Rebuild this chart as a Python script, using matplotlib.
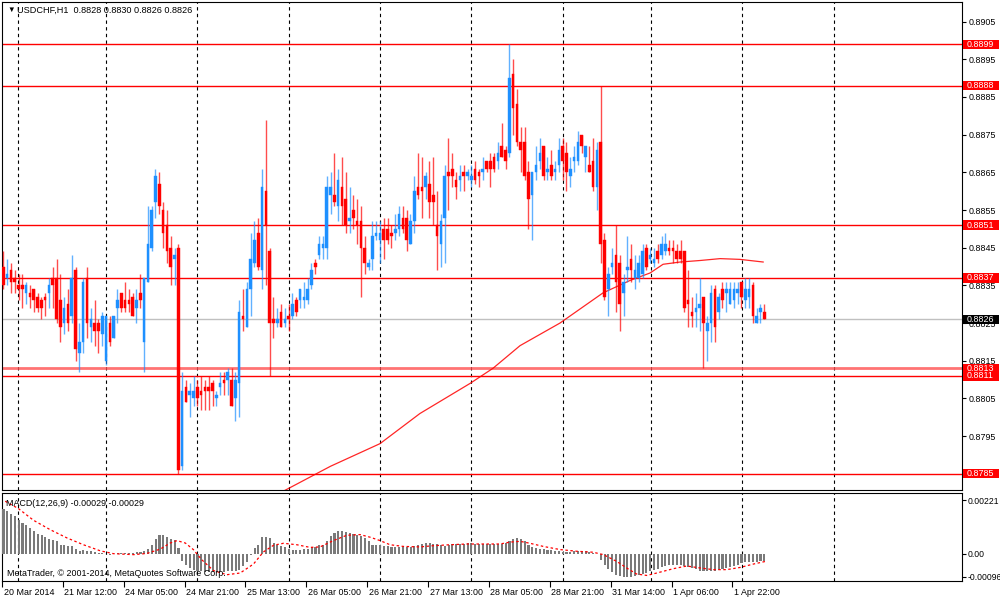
import matplotlib
matplotlib.use('Agg')
import matplotlib.pyplot as plt
import matplotlib.transforms as mtransforms
from matplotlib.patches import Rectangle

plt.rcParams['font.family'] = ['Liberation Sans', 'DejaVu Sans']

# ---- USDCHF H1 candles ----
OPEN = [
    .8840, .8837, .8839, .8837, .8835, .8835, .8833, .8833, .8834, .8832,
    .8831, .8832, .8833, .8837, .8837, .8831, .8825, .8830, .8827, .8839,
    .8817, .8820, .8837, .8824, .8825, .8825, .8822, .8815, .8825, .8821,
    .8829, .8833, .8831, .8831, .8832, .8829, .8833, .8820, .8836, .8845,
    .8857, .8862, .8855, .8851, .8845, .8842, .8845, .8787, .8808, .8806,
    .8805, .8808, .8807, .8808, .8808, .8809, .8805, .8808, .8810, .8810,
    .8810, .8805, .8809, .8827, .8824, .8834, .8841, .8849, .8839, .8860,
    .8844, .8826, .8825, .8828, .8825, .8827, .8827, .8831, .8831, .8831,
    .8831, .8835, .8841, .8843, .8845, .8845, .8859, .8859, .8856, .8861,
    .8858, .8852, .8855, .8852, .8852, .8845, .8840, .8842, .8848, .8847,
    .8850, .8850, .8849, .8849, .8850, .8853, .8853, .8846, .8852, .8861,
    .8861, .8861, .8862, .8859, .8851, .8846, .8853, .8865, .8866, .8863,
    .8863, .8865, .8864, .8863, .8866, .8865, .8865, .8868, .8868, .8869,
    .8868, .8872, .8871, .8870, .8891, .8883, .8873, .8873, .8865, .8859,
    .8865, .8868, .8872, .8865, .8867, .8865, .8867, .8872, .8870, .8864,
    .8868, .8868, .8875, .8869, .8867, .8868, .8861, .8873, .8847, .8834,
    .8840, .8843, .8841, .8833, .8839, .8842, .8837, .8837, .8838, .8845,
    .8842, .8841, .8844, .8843, .8844, .8845, .8845, .8844, .8844, .8844,
    .8831, .8828, .8828, .8829, .8832, .8823, .8825, .8834, .8828, .8834,
    .8833, .8830, .8831, .8833, .8836, .8831, .8832, .8835, .8825, .8828,
    .8828,
]
HIGH = [
    .8844, .8842, .8841, .8839, .8838, .8838, .8836, .8835, .8834, .8833,
    .8832, .8833, .8837, .8840, .8842, .8838, .8832, .8834, .8843, .8840,
    .8825, .8837, .8840, .8829, .8831, .8826, .8828, .8827, .8827, .8827,
    .8834, .8833, .8836, .8834, .8833, .8834, .8838, .8837, .8856, .8856,
    .8866, .8865, .8857, .8855, .8848, .8845, .8846, .8812, .8810, .8809,
    .8811, .8810, .8811, .8810, .8811, .8810, .8807, .8812, .8812, .8813,
    .8813, .8812, .8831, .8834, .8836, .8849, .8852, .8853, .8866, .8879,
    .8845, .8832, .8829, .8830, .8829, .8830, .8833, .8832, .8834, .8836,
    .8837, .8841, .8842, .8848, .8848, .8864, .8865, .8870, .8866, .8869,
    .8865, .8861, .8859, .8858, .8856, .8848, .8842, .8852, .8852, .8852,
    .8853, .8853, .8851, .8854, .8856, .8856, .8855, .8854, .8864, .8870,
    .8869, .8865, .8868, .8869, .8860, .8854, .8867, .8874, .8870, .8865,
    .8867, .8867, .8866, .8867, .8868, .8866, .8869, .8868, .8870, .8870,
    .8873, .8878, .8872, .8899, .8895, .8887, .8877, .8877, .8868, .8865,
    .8872, .8874, .8872, .8869, .8871, .8868, .8874, .8874, .8873, .8869,
    .8872, .8876, .8875, .8872, .8872, .8874, .8873, .8888, .8849, .8840,
    .8845, .8851, .8843, .8838, .8848, .8846, .8843, .8843, .8846, .8846,
    .8845, .8845, .8846, .8848, .8849, .8847, .8847, .8846, .8847, .8844,
    .8839, .8832, .8833, .8837, .8832, .8827, .8835, .8835, .8833, .8836,
    .8836, .8836, .8836, .8836, .8836, .8837, .8837, .8836, .8829, .8830,
    .8830,
]
LOW = [
    .8834, .8835, .8833, .8833, .8831, .8829, .8830, .8829, .8828, .8828,
    .8826, .8827, .8829, .8829, .8825, .8820, .8822, .8823, .8825, .8815,
    .8812, .8817, .8821, .8820, .8819, .8817, .8819, .8814, .8819, .8821,
    .8825, .8828, .8828, .8828, .8827, .8825, .8829, .8812, .8836, .8844,
    .8853, .8854, .8845, .8841, .8835, .8835, .8785, .8786, .8804, .8800,
    .8803, .8803, .8802, .8802, .8802, .8803, .8803, .8806, .8806, .8806,
    .8803, .8799, .8800, .8823, .8824, .8827, .8840, .8839, .8834, .8835,
    .8811, .8821, .8824, .8824, .8824, .8823, .8826, .8827, .8829, .8829,
    .8830, .8834, .8838, .8842, .8842, .8842, .8854, .8856, .8852, .8851,
    .8849, .8849, .8850, .8846, .8832, .8838, .8839, .8839, .8847, .8841,
    .8842, .8846, .8845, .8847, .8848, .8849, .8844, .8846, .8849, .8858,
    .8853, .8858, .8853, .8851, .8839, .8840, .8841, .8855, .8861, .8858,
    .8860, .8860, .8863, .8861, .8862, .8861, .8863, .8865, .8861, .8865,
    .8866, .8869, .8866, .8869, .8875, .8872, .8865, .8863, .8850, .8847,
    .8863, .8866, .8863, .8863, .8863, .8863, .8865, .8863, .8860, .8861,
    .8865, .8867, .8870, .8865, .8865, .8860, .8855, .8841, .8831, .8827,
    .8838, .8828, .8823, .8827, .8836, .8836, .8834, .8836, .8837, .8839,
    .8841, .8840, .8841, .8842, .8843, .8843, .8841, .8841, .8841, .8828,
    .8824, .8824, .8824, .8823, .8813, .8815, .8820, .8820, .8826, .8829,
    .8828, .8830, .8829, .8830, .8829, .8829, .8829, .8825, .8825, .8825,
    .8826,
]
CLOSE = [
    .8835, .8838, .8836, .8836, .8834, .8834, .8835, .8832, .8831, .8829,
    .8829, .8831, .8835, .8835, .8826, .8824, .8829, .8825, .8837, .8818,
    .8820, .8836, .8825, .8826, .8823, .8823, .8827, .8827, .8820, .8827,
    .8831, .8829, .8829, .8830, .8827, .8831, .8831, .8837, .8846, .8855,
    .8864, .8856, .8849, .8844, .8840, .8843, .8786, .8807, .8804, .8807,
    .8807, .8805, .8806, .8807, .8807, .8807, .8806, .8809, .8809, .8812,
    .8803, .8810, .8828, .8826, .8834, .8842, .8847, .8840, .8861, .8851,
    .8825, .8825, .8826, .8824, .8826, .8826, .8830, .8828, .8834, .8832,
    .8834, .8839, .8840, .8846, .8846, .8861, .8861, .8857, .8863, .8856,
    .8851, .8853, .8853, .8851, .8845, .8841, .8841, .8848, .8849, .8849,
    .8847, .8847, .8848, .8850, .8854, .8850, .8847, .8852, .8860, .8859,
    .8860, .8864, .8857, .8857, .8848, .8852, .8864, .8864, .8864, .8861,
    .8864, .8864, .8865, .8864, .8863, .8864, .8866, .8866, .8866, .8866,
    .8870, .8869, .8868, .8890, .8882, .8873, .8871, .8864, .8858, .8865,
    .8867, .8870, .8864, .8866, .8864, .8866, .8871, .8868, .8865, .8866,
    .8869, .8873, .8872, .8872, .8865, .8861, .8871, .8846, .8832, .8838,
    .8841, .8836, .8830, .8836, .8840, .8839, .8839, .8841, .8844, .8840,
    .8843, .8842, .8842, .8846, .8846, .8844, .8844, .8842, .8842, .8829,
    .8830, .8827, .8829, .8830, .8825, .8825, .8833, .8824, .8832, .8831,
    .8834, .8834, .8834, .8834, .8832, .8834, .8834, .8827, .8827, .8829,
    .8826,
]

# moving average drawn on the price window (read points)
MA_BARS = [71, 86, 99, 109.5, 122.7, 128.7, 135.8, 146.3, 157.6, 164.7,
           170, 173.4, 177.9, 183.1, 188.4, 193.6, 199.7]
MA_VALS = [0.8779, 0.8787, 0.8793, 0.8801, 0.8809, 0.8813, 0.8819, 0.8825,
           0.8833, 0.88363, 0.88383, 0.88406, 0.88412, 0.88416, 0.88421,
           0.88419, 0.88412]

# MACD(12,26,9) main histogram, one value per candle
MACD_MAIN = [
    0.00186, 0.00175, 0.00164, 0.00155, 0.00141, 0.00127, 0.00117, 0.00106, 0.00095, 0.00081,
    0.00076, 0.00068, 0.00062, 0.00058, 0.00051, 0.00037, 0.00035, 0.00030, 0.00030, 0.00019,
    0.00012, 0.00015, 0.00012, 0.00010, 0.00006, 0.00003, 0.00001, -0.00001, -0.00004, -0.00001,
    0.00001, 0.00003, 0.00003, 0.00003, 0.00004, 0.00006, 0.00008, 0.00012, 0.00021, 0.00037,
    0.00062, 0.00076, 0.00076, 0.00068, 0.00062, 0.00058, 0.00023,
    -0.00032, -0.00046, -0.00059, -0.00066, -0.00070, -0.00073, -0.00076, -0.00077, -0.00077, -0.00077,
    -0.00076, -0.00076, -0.00073, -0.00073, -0.00070, -0.00066, -0.00052, -0.00035, -0.00004,
    0.00023, 0.00037, 0.00068, 0.00068, 0.00065, 0.00044, 0.00037, 0.00030, 0.00026, 0.00021,
    0.00017, 0.00017, 0.00017, 0.00021, 0.00021, 0.00026, 0.00026, 0.00035, 0.00037, 0.00051,
    0.00072, 0.00086, 0.00092, 0.00092, 0.00090, 0.00086, 0.00081, 0.00076, 0.00072, 0.00065,
    0.00054, 0.00037, 0.00035, 0.00035, 0.00033, 0.00030, 0.00029, 0.00029, 0.00028, 0.00026,
    0.00028, 0.00029, 0.00033, 0.00037, 0.00040, 0.00044, 0.00044, 0.00041, 0.00040, 0.00035,
    0.00030, 0.00037, 0.00040, 0.00040, 0.00040, 0.00041, 0.00043, 0.00044, 0.00041, 0.00040,
    0.00040, 0.00040, 0.00040, 0.00040, 0.00040,
    0.00040, 0.00044, 0.00054, 0.00062, 0.00065, 0.00062, 0.00051, 0.00037, 0.00026, 0.00023,
    0.00021, 0.00019, 0.00017, 0.00014, 0.00012, 0.00010, 0.00006, 0.00006, 0.00006, 0.00010,
    0.00010, 0.00012, 0.00010, 0.00007, 0.00003, 0.00000,
    -0.00025, -0.00046, -0.00063, -0.00076, -0.00087, -0.00094, -0.00095, -0.00097, -0.00095, -0.00091,
    -0.00087, -0.00084, -0.00080, -0.00073, -0.00066, -0.00062, -0.00057, -0.00052, -0.00048, -0.00048,
    -0.00046, -0.00048, -0.00052, -0.00057, -0.00059, -0.00063, -0.00070, -0.00073, -0.00073, -0.00073,
    -0.00070, -0.00066, -0.00063, -0.00059, -0.00057, -0.00052, -0.00048, -0.00039, -0.00035, -0.00035,
    -0.00035, -0.00035, -0.00032, -0.00029,
]

# MACD signal line (read points)
SIG_BARS = [0.45, 3.95, 7.9, 12.3, 16.7, 21.0, 25.4, 28.9, 34.2, 37.7,
            41.2, 43.8, 45.6, 47.8, 49.9, 52.1, 55.2, 58.7, 62.2, 65.7,
            68.3, 71.0, 73.6, 77.1, 80.6, 83.2, 86.7, 90.2, 93.7, 96.4,
            99.0, 101.6, 105.1, 109.5, 113.0, 117.4, 121.8, 130.5, 133.2, 135.8,
            138.4, 141.9, 146.3, 150.7, 155.0, 157.7, 161.2, 163.8, 166.4, 169.1,
            171.7, 176.1, 179.6, 183.1, 186.6, 190.1, 193.6, 197.1, 200.3]
SIG_VALS = [0.00217, 0.00186, 0.00138, 0.00099, 0.00065, 0.00037, 0.00012, 0.0, -0.00004, 0.00001,
            0.00019, 0.00044, 0.00054, 0.00044, 0.00017, -0.00025, -0.00070, -0.00087, -0.00080, -0.00043,
            0.00007, 0.00035, 0.00043, 0.00037, 0.00026, 0.00028, 0.00054, 0.00076, 0.00079, 0.00068,
            0.00054, 0.00037, 0.00030, 0.00028, 0.00033, 0.00037, 0.00040, 0.00040, 0.00048, 0.00051,
            0.00043, 0.00030, 0.00017, 0.00010, 0.00006, -0.00004, -0.00032, -0.00059, -0.00084, -0.00090,
            -0.00080, -0.00062, -0.00051, -0.00059, -0.00066, -0.00066, -0.00057, -0.00043, -0.00032]

LEVELS = [0.8899, 0.8888, 0.8851, 0.8837, 0.8813, 0.8811, 0.8785]
LAST_PRICE = 0.8826
PRICE_TICKS = [0.8905, 0.8895, 0.8885, 0.8875, 0.8865, 0.8855, 0.8845,
               0.8835, 0.8825, 0.8815, 0.8805, 0.8795, 0.8785]
MACD_TICKS = [0.00221, 0.0, -0.00096]
MACD_TICK_LABELS = ['0.00221', '0.00', '-0.00096']
TIME_LABELS = ['20 Mar 2014', '21 Mar 12:00', '24 Mar 05:00', '24 Mar 21:00',
               '25 Mar 13:00', '26 Mar 05:00', '26 Mar 21:00', '27 Mar 13:00',
               '28 Mar 05:00', '28 Mar 21:00', '31 Mar 14:00', '1 Apr 06:00',
               '1 Apr 22:00']
TIME_BARS = [0, 16, 32, 48, 64, 80, 96, 112, 128, 144, 160, 176, 192]
GRID_BARS = [3.9, 27.0, 50.9, 75.1, 99.0, 122.9, 147.1, 170.2, 194.1, 218.3]

BLUE = '#1E90FF'
RED = '#FF0000'
FS = 6.4

W, H = 1000, 598
fig = plt.figure(figsize=(W / 100, H / 100), dpi=100)
fig.patch.set_facecolor('white')


def box(x0, y0, x1, y1):
    return [x0 / W, 1 - y1 / H, (x1 - x0) / W, (y1 - y0) / H]


ax = fig.add_axes(box(2, 2, 962, 490))
ax2 = fig.add_axes(box(2, 493, 962, 581))
XL = (-0.34, 251.96)

n = len(OPEN)
xs = list(range(n))
cols = [BLUE if c >= o else RED for o, c in zip(OPEN, CLOSE)]

# ── grid ──
for g in GRID_BARS:
    for a in (ax, ax2):
        a.axvline(g, color='black', lw=0.8, ls=(0, (3, 3)), zorder=1)

# ── price window ──
ax.axhline(LAST_PRICE, color='#c0c0c0', lw=1, zorder=1.5)
for lv in LEVELS:
    if lv == 0.8813:
        ax.axhline(lv, color='#ff5050', lw=2.0, alpha=0.8, zorder=2)
    else:
        ax.axhline(lv, color=RED, lw=1.0, zorder=2)
ax.plot(MA_BARS, MA_VALS, color=RED, lw=0.9, alpha=0.85, zorder=2.2)

ax.vlines(xs, LOW, HIGH, colors=cols, lw=1, alpha=0.7, zorder=3)
ax.bar(xs, [abs(c - o) for o, c in zip(OPEN, CLOSE)],
       bottom=[min(o, c) for o, c in zip(OPEN, CLOSE)],
       width=0.68, color=cols, edgecolor=cols, linewidth=0.3, zorder=4)

ax.set_xlim(XL)
ax.set_ylim(0.87807, 0.89102)
ax.set_xticks([])
ax.yaxis.tick_right()
ax.set_yticks(PRICE_TICKS)
# 0.8785 sits fully under its own tag, so its label is left blank
ax.set_yticklabels([f'{p:.4f}' if p not in LEVELS else '' for p in PRICE_TICKS])
ax.tick_params(axis='y', length=3, width=0.8, pad=2, labelsize=FS)

# price tags on the right
trans = ax.get_yaxis_transform()
hh = 4.7 / 37683
tags = sorted(LEVELS) + [LAST_PRICE]
for lv in tags:
    fc = 'black' if lv == LAST_PRICE else RED
    ax.add_patch(Rectangle((1.0012, lv - hh), 0.0375, 2 * hh, transform=trans,
                           clip_on=False, fc=fc, ec='none', zorder=6))
    ax.text(1.0045, lv, f'{lv:.4f}', transform=trans, color='white', fontsize=FS,
            ha='left', va='center', clip_on=False, zorder=7)

# ── MACD window ──
ax2.bar(xs, MACD_MAIN, width=0.55, color='#7a7a7a', zorder=3)
ax2.plot(SIG_BARS, SIG_VALS, color=RED, lw=0.9, ls=(0, (2, 2)), zorder=4)
ax2.set_xlim(XL)
ax2.set_ylim(-0.00113, 0.00251)
ax2.yaxis.tick_right()
ax2.set_yticks(MACD_TICKS)
ax2.set_yticklabels(MACD_TICK_LABELS)
ax2.tick_params(axis='y', length=3, width=0.8, pad=1, labelsize=6.2)
ax2.set_xticks([b - 0.4 for b in TIME_BARS])
ax2.set_xticklabels(TIME_LABELS)
ax2.tick_params(axis='x', length=4, width=0.8, pad=1, labelsize=FS)
offset = mtransforms.ScaledTranslation(1.5 / 100, 0, fig.dpi_scale_trans)
for lbl in ax2.get_xticklabels():
    lbl.set_ha('left')
    lbl.set_transform(lbl.get_transform() + offset)

for a in (ax, ax2):
    for s in a.spines.values():
        s.set_linewidth(0.8)
        s.set_color('black')

# ── captions ──
fig.text(7 / W, 1 - 10 / H, '\u25bc', fontsize=5.5, ha='left', va='center')
fig.text(17 / W, 1 - 10 / H, 'USDCHF,H1  0.8828 0.8830 0.8826 0.8826',
         fontsize=6.6, ha='left', va='center')
fig.text(6 / W, 1 - 503 / H, 'MACD(12,26,9) -0.00029 -0.00029',
         fontsize=FS, ha='left', va='center')
fig.text(7 / W, 1 - 574 / H, 'MetaTrader, \u00a9 2001-2014, MetaQuotes Software Corp.',
         fontsize=FS, ha='left', va='center')

fig.savefig('out.png', dpi=100, facecolor='white')
